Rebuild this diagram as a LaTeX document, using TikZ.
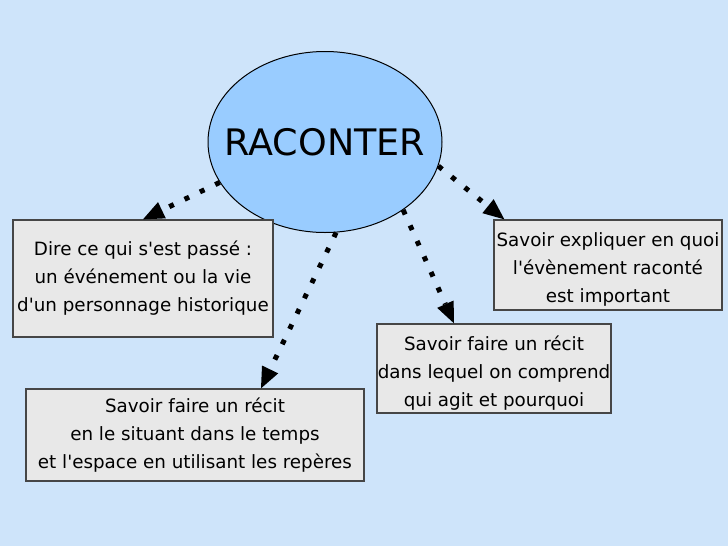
\documentclass[tikz,border=0pt]{standalone}
\usepackage{fontspec}
\setmainfont{DejaVu Sans}
\usetikzlibrary{shapes.geometric,arrows.meta}
\definecolor{bgblue}{RGB}{206,228,250}
\definecolor{ellblue}{RGB}{153,204,255}
\definecolor{boxgray}{RGB}{232,232,232}
\definecolor{boxline}{RGB}{70,70,70}
\newcommand\ap{\textquotesingle}
\tikzset{
  box/.style={draw=boxline, line width=1.3pt, fill=boxgray, inner sep=0pt, align=center,
    font=\fontsize{18.3}{28}\selectfont},
  boxtext/.style={align=center, inner sep=0pt, font=\fontsize{18.3}{28}\selectfont},
  conn/.style={line width=5pt, dash pattern=on 5pt off 12pt,
    -{Triangle[length=21pt,width=18pt,line width=0pt]}},
}
\begin{document}
\begin{tikzpicture}[x=1pt,y=-1pt]
\fill[bgblue] (0,0) rectangle (728,546);
\useasboundingbox (0,0) rectangle (728,546);

\node[ellipse, draw=black, line width=1pt, fill=ellblue, inner sep=0pt,
  minimum width=234pt, minimum height=181pt,
  label={[font=\fontsize{36.5}{40}\selectfont, name=ct]center:RACONTER}] (c) at (325,142) {};

\node[box, minimum width=260pt, minimum height=117pt] (b1) at (143,278.5)
  {Dire ce qui s\ap est passé :\\un événement ou la vie\\d\ap un personnage historique};
\node[box, minimum width=338pt, minimum height=92pt] (b2) at (195,435)
  {Savoir faire un récit\\en le situant dans le temps\\et l\ap espace en utilisant les repères};
\node[box, minimum width=234pt, minimum height=89pt,
  label={[boxtext, name=t3, yshift=-5pt]center:{Savoir faire un récit\\dans lequel on comprend\\qui agit et pourquoi}}] (b3) at (494,368.5) {};
\node[box, minimum width=228pt, minimum height=90pt,
  label={[boxtext, name=t4, yshift=-4pt]center:{Savoir expliquer en quoi\\l\ap évènement raconté\\est important}}] (b4) at (608,265) {};

\draw[conn] (c.201) -- (b1.north);
\draw[conn] (c.277.5) -- ([xshift=66pt]b2.north);
\draw[conn] (c.319) -- ([xshift=-40pt]b3.north);
\draw[conn] (c.348) -- ([xshift=11pt]b4.north west);
\end{tikzpicture}
\end{document}
